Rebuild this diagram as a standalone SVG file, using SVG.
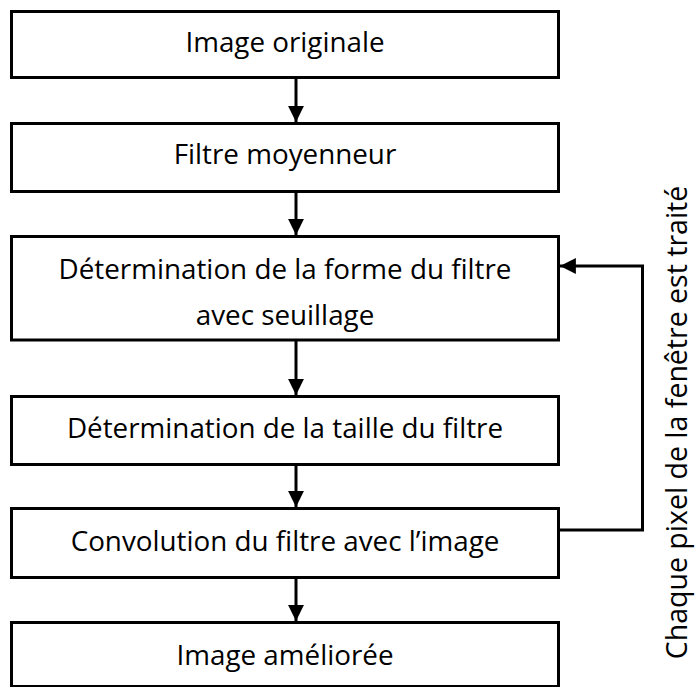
<svg xmlns="http://www.w3.org/2000/svg" width="698" height="687" viewBox="0 0 698 687">
<style>
.box{fill:#fff;stroke:#000;stroke-width:3}
.lbl{font-family:"Open Sans","DejaVu Sans",sans-serif;font-size:27.8px;fill:#000;text-anchor:middle}
.vlbl{font-size:28.5px}
.conn{fill:none;stroke:#000;stroke-width:3}
</style>
<defs>
<marker id="ah" viewBox="0 0 10 10" refX="10" refY="5" markerWidth="5.3" markerHeight="5.3" markerUnits="strokeWidth" orient="auto">
<path d="M0,0 L10,5 L0,10 Z" fill="#000"/>
</marker>
</defs>
<rect width="698" height="687" fill="#fff"/>
<g id="connectors">
<line class="conn" x1="296" y1="78" x2="296" y2="122" marker-end="url(#ah)"/>
<line class="conn" x1="296" y1="192" x2="296" y2="235" marker-end="url(#ah)"/>
<line class="conn" x1="296" y1="340" x2="296" y2="395" marker-end="url(#ah)"/>
<line class="conn" x1="296" y1="465" x2="296" y2="507" marker-end="url(#ah)"/>
<line class="conn" x1="296" y1="578" x2="296" y2="621" marker-end="url(#ah)"/>
<polyline class="conn" points="559,530 642.5,530 642.5,266 560,266" marker-end="url(#ah)"/>
</g>
<g id="n1"><rect class="box" x="11.5" y="11.5" width="547" height="66"/><text class="lbl" x="285" y="52">Image originale</text></g>
<g id="n2"><rect class="box" x="11.5" y="123.5" width="547" height="68"/><text class="lbl" x="285" y="164">Filtre moyenneur</text></g>
<g id="n3"><rect class="box" x="11.5" y="236.5" width="547" height="103.5"/><text class="lbl" x="285" y="279">Détermination de la forme du filtre</text><text class="lbl" x="285" y="325">avec seuillage</text></g>
<g id="n4"><rect class="box" x="11.5" y="396.5" width="547" height="68"/><text class="lbl" x="285" y="438">Détermination de la taille du filtre</text></g>
<g id="n5"><rect class="box" x="11.5" y="508.5" width="547" height="69"/><text class="lbl" x="285" y="551">Convolution du filtre avec l’image</text></g>
<g id="n6"><rect class="box" x="11.5" y="622.5" width="547" height="64"/><text class="lbl" x="285" y="665">Image améliorée</text></g>
<g id="feedback-label"><text class="lbl vlbl" transform="translate(687,422.5) rotate(-90)">Chaque pixel de la fenêtre est traité</text></g>
</svg>
